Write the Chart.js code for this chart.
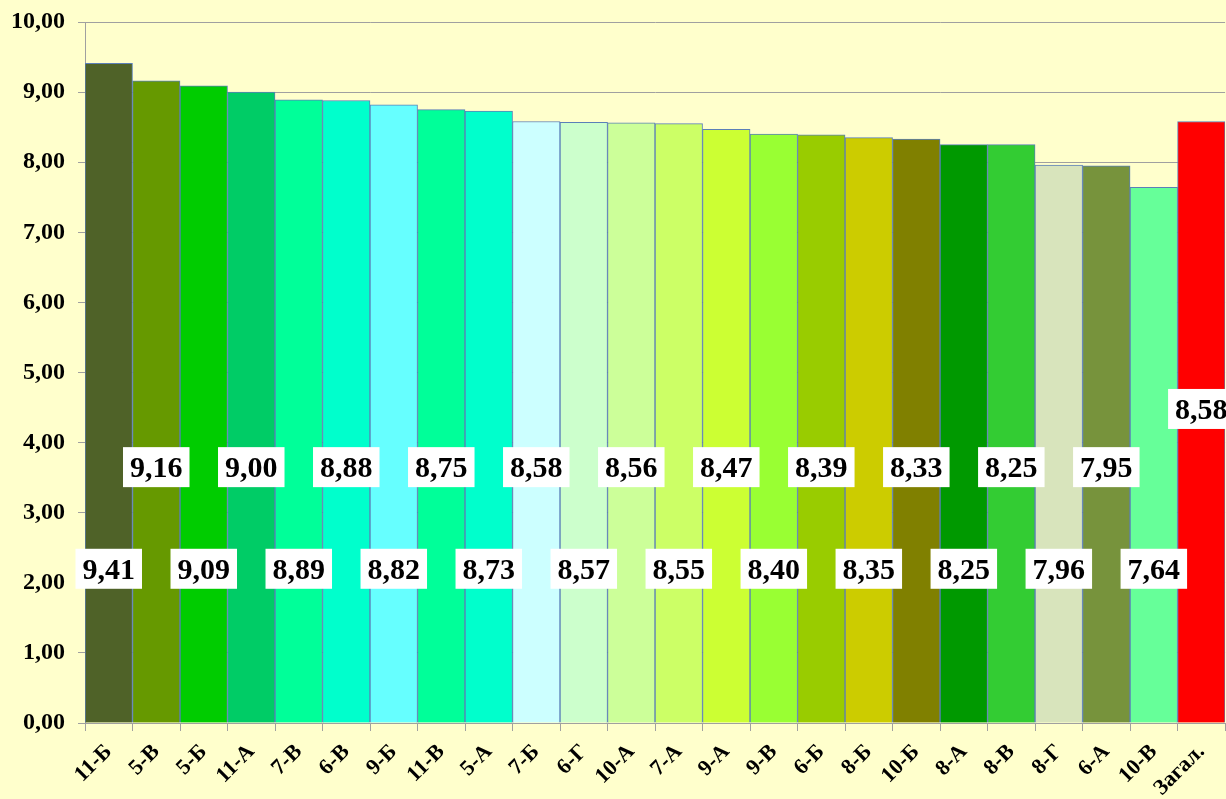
<!DOCTYPE html>
<html>
<head>
<meta charset="utf-8">
<script src="https://cdn.jsdelivr.net/npm/chart.js@4/dist/chart.umd.min.js"></script>
<style>
  html, body { margin: 0; padding: 0; background: #FFFFCC; overflow: hidden; }
  #wrap { width: 1228px; height: 799px; }
</style>
</head>
<body>
<div id="wrap"><canvas id="myChart" width="1228" height="799"></canvas></div>
<script>
const ctx = document.getElementById("myChart").getContext('2d')

const classes = ['11-Б', '5-В', '5-Б', '11-А', '7-В', '6-В', '9-Б', '11-В', '5-А', '7-Б', '6-Г', '10-А',
  '7-А', '9-А', '9-В', '6-Б', '8-Б', '10-Б', '8-А', '8-В', '8-Г', '6-А', '10-В', 'Загал.']

const scores = [9.41, 9.16, 9.09, 9.00, 8.89, 8.88, 8.82, 8.75, 8.73, 8.58, 8.57, 8.56,
  8.55, 8.47, 8.40, 8.39, 8.35, 8.33, 8.25, 8.25, 7.96, 7.95, 7.64, 8.58]

const barColors = ['#4F6228', '#669900', '#00CC00', '#00CC66', '#00FF99', '#00FFCC', '#66FFFF', '#00FF99',
  '#00FFCC', '#CCFFFF', '#CCFFCC', '#CCFF99', '#CCFF66', '#CCFF33', '#99FF33', '#99CC00',
  '#CCCC00', '#808000', '#009900', '#33CC33', '#D8E4BC', '#77933C', '#66FF99', '#FF0000']

const yTicks = [0, 1, 2, 3, 4, 5, 6, 7, 8, 9, 10]

const fmt = v => v.toFixed(2).replace('.', ',')

// white boxed value labels, alternating low / high like the original
const boxLabels = {
  id: 'boxLabels',
  afterDatasetsDraw(chart) {
    const c = chart.ctx
    const meta = chart.getDatasetMeta(0)
    const ys = chart.scales.y
    c.save()
    c.font = 'bold 30px "Liberation Serif", "Times New Roman", serif'
    c.textAlign = 'center'
    c.textBaseline = 'middle'
    meta.data.forEach((bar, i) => {
      let level = i % 2 === 0 ? 2.2 : 3.65
      if (i === meta.data.length - 1) level = 4.48
      const y = ys.getPixelForValue(level)
      const text = fmt(scores[i])
      const w = c.measureText(text).width + 14
      const h = 40
      c.fillStyle = '#FFFFFF'
      c.fillRect(bar.x - w / 2, y - h / 2, w, h)
      c.fillStyle = '#000000'
      c.fillText(text, bar.x, y + 2)
    })
    c.restore()
  }
}

const config = {
  type: 'bar',
  data: {
    labels: classes,
    datasets: [{
      data: scores,
      backgroundColor: barColors,
      borderColor: '#5B7FB8',
      borderWidth: 1,
      categoryPercentage: 1,
      barPercentage: 1
    }]
  },
  options: {
    responsive: false,
    animation: false,
    layout: { padding: { top: 22, right: 0, bottom: 0, left: 0 } },
    plugins: {
      legend: { display: false },
      tooltip: { enabled: false }
    },
    scales: {
      x: {
        offset: true,
        afterFit: (s) => { s.height = 76; s.paddingTop = 0 },
        grid: {
          drawOnChartArea: false,
          color: '#A0A0A0',
          tickLength: 8,
          offset: true
        },
        border: { color: '#A0A0A0' },
        ticks: {
          color: '#000',
          minRotation: 45,
          maxRotation: 45,
          padding: 8,
          font: { family: '"Liberation Serif", "Times New Roman", serif', size: 22, weight: 'bold' }
        }
      },
      y: {
        min: 0,
        max: 10,
        afterFit: (s) => { s.width = 85; s.paddingTop = 0; s.paddingBottom = 0 },
        afterBuildTicks: (s) => { s.ticks = yTicks.map(v => ({ value: v })) },
        grid: { color: '#A0A0A0', tickLength: 7 },
        border: { color: '#A0A0A0' },
        ticks: {
          color: '#000',
          padding: 13,
          callback: (v) => fmt(v),
          font: { family: '"Liberation Serif", "Times New Roman", serif', size: 24, weight: 'bold', lineHeight: 1 }
        }
      }
    }
  },
  plugins: [boxLabels]
}

const myChart = new Chart(ctx, config)
</script>
</body>
</html>
